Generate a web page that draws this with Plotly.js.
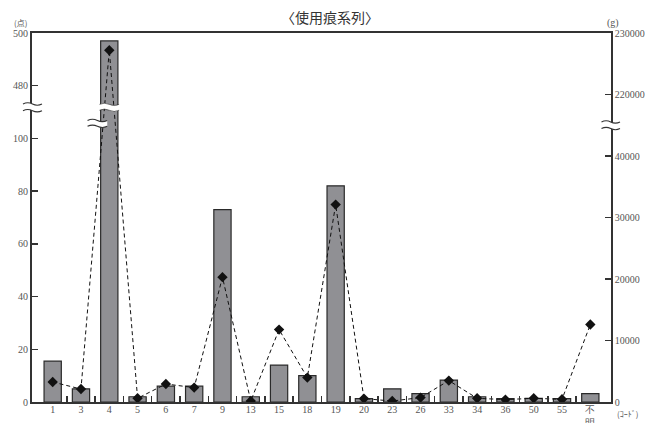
<!DOCTYPE html>
<html>
<head>
<meta charset="utf-8">
<script src="https://cdn.plot.ly/plotly-3.0.1.min.js"></script>
<style>html,body{margin:0;padding:0;background:#fff;}#chart{width:656px;height:423px;}</style>
</head>
<body>
<div id="chart"></div>
<script>
// ---- data ----
const categories = ['1','3','4','5','6','7','9','13','15','18','19','20','23','26','33','34','36','50','55','不<br>明'];
const counts = [15.5, 5, 497, 2, 6, 6, 73, 2, 14, 10, 82, 1.3, 5, 3.2, 8.3, 2, 1.3, 1.4, 1.3, 3.2];   // (点)
const weights = [3250, 2110, 227200, 600, 2930, 2340, 20300, 160, 11770, 3970, 32100, 550, 160, 715, 3480, 600, 390, 600, 440, 12590]; // (g)
const leftTickVals = [0, 20, 40, 60, 80, 100, 480, 500];
const rightTickVals = [0, 10000, 20000, 30000, 40000, 220000, 230000];

// ---- broken-axis transforms ----
const LEFT_CUT = 400, LEFT_SHIFT = 360;       // 480 -> 120 on drawn scale
const RIGHT_CUT = 200000, RIGHT_SHIFT = 170000; // 220000 -> 50000 on drawn scale
const fl = v => v >= LEFT_CUT ? v - LEFT_SHIFT : v;
const fr = v => v >= RIGHT_CUT ? v - RIGHT_SHIFT : v;

const idx = categories.map((c, i) => i);
const xr = [-0.731, categories.length - 1 + 0.731];
const bounds = idx.slice(0, -1).map(i => i + 0.5);
const yRange = [0, 140], y2Range = [0, 60000];

const dark = '#333';
const tickFont = {family: 'Liberation Serif, DejaVu Serif, serif', size: 10, color: '#555'};

const bars = {
  type: 'bar', x: idx, y: counts.map(fl), xaxis: 'x', yaxis: 'y',
  width: 0.61,
  marker: {color: '#909094', line: {color: '#2a2a2a', width: 1.2}},
  hoverinfo: 'skip', showlegend: false
};
const line = {
  type: 'scatter', mode: 'lines+markers', x: idx, y: weights.map(fr), xaxis: 'x2', yaxis: 'y2',
  line: {color: '#111', width: 1, dash: '4px,3px'},
  marker: {symbol: 'diamond', size: 8, color: '#111'},
  hoverinfo: 'skip', showlegend: false
};

// helpers for break symbols (paper coords)
const xp = i => (i - xr[0]) / (xr[1] - xr[0]);
const ypL = v => (v - yRange[0]) / (yRange[1] - yRange[0]);
const ypR = v => (v - y2Range[0]) / (y2Range[1] - y2Range[0]);
function band(x0, x1, yLo, yHi, a) {
  const w = x1 - x0;
  return `M${x0},${yHi} Q${x0 + w / 4},${yHi + a} ${x0 + w / 2},${yHi} T${x1},${yHi} L${x1},${yLo} Q${x1 - w / 4},${yLo - a} ${x0 + w / 2},${yLo} T${x0},${yLo} Z`;
}
function wave(x0, x1, y, a) {
  const w = x1 - x0;
  return `M${x0},${y} Q${x0 + w / 4},${y + a} ${x0 + w / 2},${y} T${x1},${y}`;
}
const A = 0.0065;
function breakMark(x0, x1, yc, gap, lw) {
  const yLo = yc - gap / 2, yHi = yc + gap / 2;
  return [
    {type: 'path', xref: 'paper', yref: 'paper', path: band(x0, x1, yLo, yHi, A), fillcolor: '#fff', line: {width: 0}, layer: 'above'},
    {type: 'path', xref: 'paper', yref: 'paper', path: wave(x0, x1, yHi, A), fillcolor: 'rgba(0,0,0,0)', line: {color: dark, width: lw}, layer: 'above'},
    {type: 'path', xref: 'paper', yref: 'paper', path: wave(x0, x1, yLo, A), fillcolor: 'rgba(0,0,0,0)', line: {color: dark, width: lw}, layer: 'above'}
  ];
}
const pxW = 579;
const shapes = [].concat(
  breakMark(-9 / pxW, 10 / pxW, ypL(111.8), 0.018, 1.1),                 // left axis
  breakMark(xp(2) - 0.017, xp(2) + 0.017, ypL(111.8), 0.016, 0.6),        // tall bar
  breakMark(xp(1.58) - 0.017, xp(1.58) + 0.017, ypR(45300), 0.016, 1.1),  // line
  breakMark(1 - 9.5 / pxW, 1 + 9 / pxW, ypR(45000), 0.018, 1.1)           // right axis
);

const layout = {
  width: 656, height: 423,
  margin: {l: 32, r: 45, t: 33, b: 21},
  paper_bgcolor: '#fff', plot_bgcolor: '#fff',
  font: {family: 'Liberation Serif, "Noto Sans CJK JP", serif', color: '#444'},
  title: {text: '〈使用痕系列〉', x: 330 / 656, xanchor: 'center', xref: 'container', y: 1 - 18 / 423, yanchor: 'middle',
          font: {family: '"Noto Sans CJK JP", sans-serif', size: 14, color: '#333'}},
  xaxis: {type: 'linear', range: xr, tickvals: bounds, ticks: 'inside', ticklen: 6, tickwidth: 1.5, tickcolor: dark,
          showticklabels: false, showline: true, linecolor: dark, linewidth: 1.8, mirror: true,
          showgrid: false, zeroline: false, fixedrange: true},
  xaxis2: {type: 'linear', overlaying: 'x', anchor: 'y2', side: 'bottom', range: xr, tickvals: idx, ticktext: categories,
           ticks: '', showline: false, showgrid: false, zeroline: false, tickfont: tickFont, fixedrange: true},
  yaxis: {range: yRange, tickvals: leftTickVals.map(fl), ticktext: leftTickVals.map(String), ticks: 'inside', ticklen: 6,
          tickwidth: 1.5, tickcolor: dark, showline: true, linecolor: dark, linewidth: 2, showgrid: false, zeroline: false,
          tickfont: tickFont, fixedrange: true},
  yaxis2: {overlaying: 'y', side: 'right', range: y2Range, tickvals: rightTickVals.map(fr), ticktext: rightTickVals.map(String),
           ticks: 'inside', ticklen: 6, tickwidth: 1.5, tickcolor: dark, showline: true, linecolor: dark, linewidth: 1.8,
           showgrid: false, zeroline: false, tickfont: tickFont, fixedrange: true},
  shapes: shapes,
  annotations: [
    {text: '(点)', xref: 'paper', yref: 'paper', x: -12 / pxW, y: 1.028, xanchor: 'center', yanchor: 'middle', showarrow: false,
     font: {family: '"Noto Sans CJK JP", serif', size: 8, color: '#555'}},
    {text: '(g)', xref: 'paper', yref: 'paper', x: 1 + 2 / pxW, y: 1.028, xanchor: 'center', yanchor: 'middle', showarrow: false,
     font: {family: 'Liberation Serif, serif', size: 10, color: '#555'}},
    {text: '(ｺｰﾄﾞ)', xref: 'paper', yref: 'paper', x: 1 + 16 / pxW, y: -0.03, xanchor: 'center', yanchor: 'middle', showarrow: false,
     font: {family: '"Noto Sans CJK JP", serif', size: 8, color: '#555'}}
  ]
};

Plotly.newPlot('chart', [bars, line], layout, {staticPlot: true, displayModeBar: false});
</script>
</body>
</html>
